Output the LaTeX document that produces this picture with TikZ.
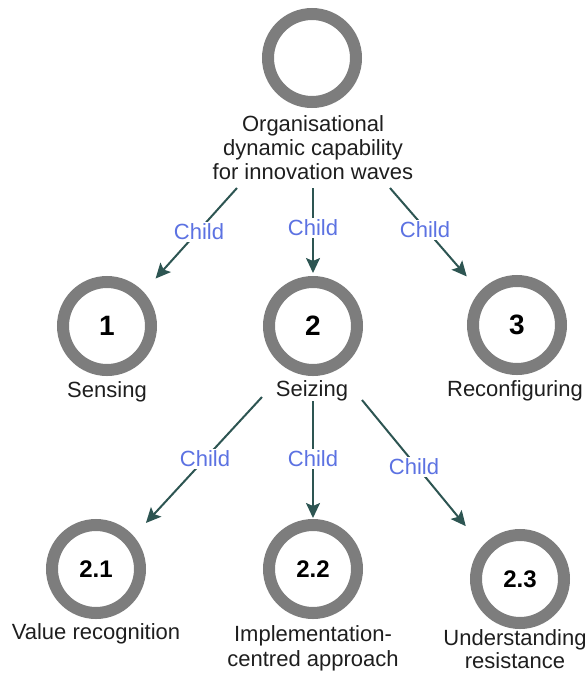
\documentclass[tikz,border=0pt]{standalone}
\usepackage{fontspec}
\setmainfont{Liberation Sans}
\usetikzlibrary{arrows.meta}
\definecolor{ringgray}{RGB}{125,125,125}
\definecolor{edgeteal}{RGB}{45,85,82}
\definecolor{childblue}{RGB}{92,114,226}
\definecolor{textdark}{RGB}{30,30,30}
\begin{document}
\begin{tikzpicture}[x=1pt,y=-1pt,
  ring/.style={circle, draw=ringgray, line width=12pt, minimum size=88pt,
    inner sep=0pt, outer sep=6pt, text=black,
    font=\fontsize{28}{28}\selectfont\bfseries},
  subring/.style={ring, font=\fontsize{24}{24}\selectfont\bfseries},
  caption/.style={inner sep=0pt, align=center, text=textdark,
    font=\fontsize{22}{24}\selectfont},
  rel/.style={draw=edgeteal, line width=2pt,
    -{Stealth[length=15pt,width=14pt,inset=3pt]}},
  childlbl/.style={fill=white, inner sep=2pt, text=childblue,
    font=\fontsize{22}{24}\selectfont}]
\useasboundingbox (0,0) rectangle (587,673);

% capability nodes
\node[ring] (c0) at (312,58) {};
\node[ring] (c1) at (107,326) {1};
\node[ring] (c2) at (313,326) {2};
\node[ring] (c3) at (517,325) {3};
\node[subring] (c21) at (96,569) {2.1};
\node[subring] (c22) at (313,569) {2.2};
\node[subring] (c23) at (520,579) {2.3};

% captions
\node[caption] (t0) at (313,148) {Organisational\\dynamic capability\\for innovation waves};
\node[caption, anchor=base] (t1) at (107,397) {Sensing};
\node[caption, anchor=base] (t2) at (312,396) {Seizing};
\node[caption, anchor=base] (t3) at (515,396) {Reconfiguring};
\node[caption, anchor=base] (t21) at (96,639) {Value recognition};
\node[caption, font=\fontsize{22}{25}\selectfont] (t22) at (313,648) {Implementation-\\centred approach};
\node[caption, font=\fontsize{22}{23}\selectfont] (t23) at (515,649) {Understanding\\resistance};

% start points of the child links
\coordinate (s1) at (237,188);
\coordinate (s2) at (313,188);
\coordinate (s3) at (390,188);
\coordinate (s21) at (262,397);
\coordinate (s22) at (313,401);
\coordinate (s23) at (362,400);

% child links
\draw[rel, shorten >=18pt] (s1) -- (c1.43);
\draw[rel, shorten >=3pt] (s2) -- (c2.north);
\draw[rel, shorten >=20pt] (s3) -- (c3.138);
\draw[rel, shorten >=18pt] (s21) -- (c21.41);
\draw[rel, shorten >=1pt] (s22) -- (c22.north);
\draw[rel, shorten >=26pt] (s23) -- (c23.139);

% link labels
\node[childlbl] (l1) at (199,232) {Child};
\node[childlbl] (l2) at (313,228) {Child};
\node[childlbl] (l3) at (425,230) {Child};
\node[childlbl] (l21) at (205,459) {Child};
\node[childlbl] (l22) at (313,459) {Child};
\node[childlbl] (l23) at (414,467) {Child};
\end{tikzpicture}
\end{document}
